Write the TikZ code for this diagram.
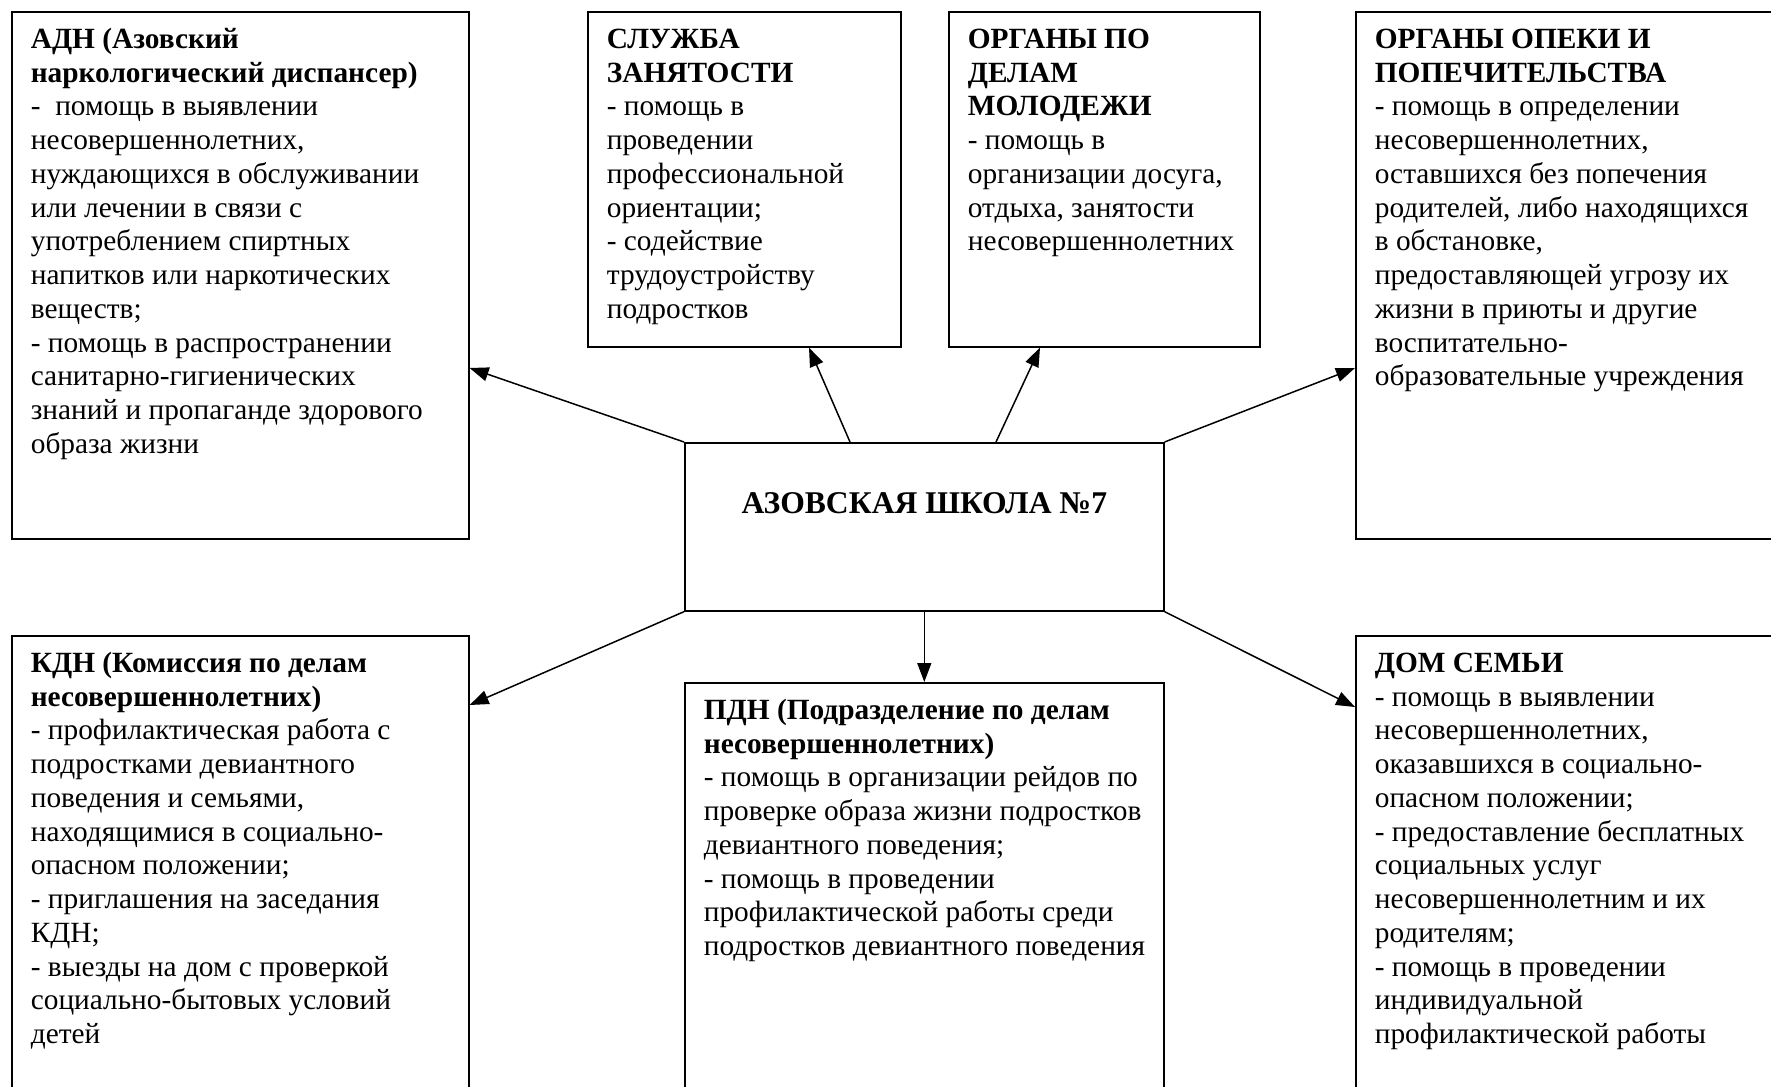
\documentclass[tikz,border=0pt]{standalone}
\usepackage{fontspec}
\setmainfont{Liberation Serif}
\usepackage{tikz}
\usetikzlibrary{arrows.meta,calc}

% text of one box: width, height, lines
\newcommand{\boxlines}[3]{%
    \begin{minipage}[t][#2][t]{#1}%
        \begin{tabular}[t]{@{}l@{}}#3\end{tabular}%
    \end{minipage}}

\begin{document}
\begin{tikzpicture}[x=0.02cm, y=-0.02cm,
    orgbox/.style={draw, line width=0.034cm, inner xsep=0.38cm, inner ysep=0.26cm,
        anchor=north west, font=\fontsize{16.7pt}{19.2pt}\selectfont},
    link/.style={-{Triangle[length=0.38cm, width=0.28cm]}, line width=0.03cm}]
    \useasboundingbox (0,0) rectangle (1771,1087);
    \clip (0,0) rectangle (1771,1087);

    % Centre
    \node[orgbox] (school) at (684,442) {\begin{minipage}[t][2.84cm][t]{8.82cm}\centering
        \begin{tabular}[t]{@{}c@{}}\\ \fontsize{18pt}{19.2pt}\selectfont\textbf{АЗОВСКАЯ ШКОЛА №7}\end{tabular}\end{minipage}};

    % Top row
    \node[orgbox] (adn) at (11,11) {\boxlines{8.38cm}{10.02cm}{%
        \textbf{АДН (Азовский}\\
        \textbf{наркологический диспансер)}\\
        -\ \ помощь в выявлении\\
        несовершеннолетних,\\
        нуждающихся в обслуживании\\
        или лечении в связи с\\
        употреблением спиртных\\
        напитков или наркотических\\
        веществ;\\
        - помощь в распространении\\
        санитарно-гигиенических\\
        знаний и пропаганде здорового\\
        образа жизни}};
    \node[orgbox] (sluzhba) at (587,11) {\boxlines{5.5cm}{6.18cm}{%
        \textbf{СЛУЖБА}\\
        \textbf{ЗАНЯТОСТИ}\\
        - помощь в\\
        проведении\\
        профессиональной\\
        ориентации;\\
        - содействие\\
        трудоустройству\\
        подростков}};
    \node[orgbox] (molodezh) at (948,11) {\boxlines{5.46cm}{6.18cm}{%
        \textbf{ОРГАНЫ ПО}\\
        \textbf{ДЕЛАМ}\\
        \textbf{МОЛОДЕЖИ}\\
        - помощь в\\
        организации досуга,\\
        отдыха, занятости\\
        несовершеннолетних}};
    \node[orgbox] (opeka) at (1355,11) {\boxlines{8.14cm}{10.02cm}{%
        \textbf{ОРГАНЫ ОПЕКИ И}\\
        \textbf{ПОПЕЧИТЕЛЬСТВА}\\
        - помощь в определении\\
        несовершеннолетних,\\
        оставшихся без попечения\\
        родителей, либо находящихся\\
        в обстановке,\\
        предоставляющей угрозу их\\
        жизни в приюты и другие\\
        воспитательно-\\
        образовательные учреждения}};

    % Bottom row
    \node[orgbox] (kdn) at (11,635) {\boxlines{8.38cm}{8.98cm}{%
        \textbf{КДН (Комиссия по делам}\\
        \textbf{несовершеннолетних)}\\
        - профилактическая работа с\\
        подростками девиантного\\
        поведения и семьями,\\
        находящимися в социально-\\
        опасном положении;\\
        - приглашения на заседания\\
        КДН;\\
        - выезды на дом с проверкой\\
        социально-бытовых условий\\
        детей}};
    \node[orgbox] (pdn) at (684,682) {\boxlines{8.82cm}{8.04cm}{%
        \textbf{ПДН (Подразделение по делам}\\
        \textbf{несовершеннолетних)}\\
        - помощь в организации рейдов по\\
        проверке образа жизни подростков\\
        девиантного поведения;\\
        - помощь в проведении\\
        профилактической работы среди\\
        подростков девиантного поведения}};
    \node[orgbox] (domsemi) at (1355,635) {\boxlines{8.14cm}{8.98cm}{%
        \textbf{ДОМ СЕМЬИ}\\
        - помощь в выявлении\\
        несовершеннолетних,\\
        оказавшихся в социально-\\
        опасном положении;\\
        - предоставление бесплатных\\
        социальных услуг\\
        несовершеннолетним и их\\
        родителям;\\
        - помощь в проведении\\
        индивидуальной\\
        профилактической работы}};

    % Links
    \draw[link] (school.north west) -- ($(adn.north east)+(0,357)$);
    \draw[link] ($(school.north west)+(166,0)$) -- ($(sluzhba.south west)+(222,0)$);
    \draw[link] ($(school.north west)+(312,0)$) -- ($(molodezh.south west)+(92,0)$);
    \draw[link] (school.north east) -- ($(opeka.north west)+(0,357)$);
    \draw[link] (school.south west) -- ($(kdn.north east)+(0,70)$);
    \draw[link] (school.south) -- (pdn.north);
    \draw[link] (school.south east) -- ($(domsemi.north west)+(0,72)$);
\end{tikzpicture}
\end{document}
